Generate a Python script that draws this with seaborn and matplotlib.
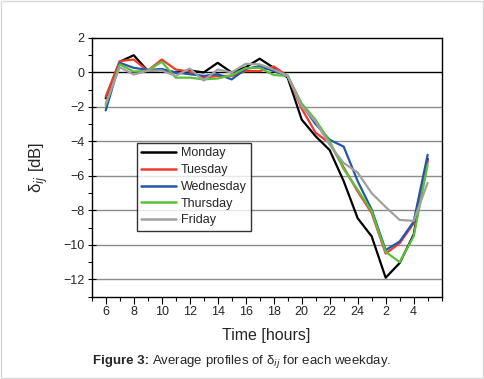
import numpy as np
import pandas as pd
import matplotlib.pyplot as plt
import matplotlib.ticker as mticker
import seaborn as sns

# hours 6 .. 29 (29 = 5 am next day)
hours = list(range(6, 30))
days = ["Monday", "Tuesday", "Wednesday", "Thursday", "Friday"]

monday = [-1.5, 0.62, 1.0, 0.1, 0.15, 0.0, 0.12, 0.0, 0.56, 0.0, 0.3, 0.8,
          0.27, -0.3, -2.73, -3.7, -4.5, -6.3, -8.45, -9.5, -11.9, -11.05, -9.4, -5.0]
tuesday = [-1.4, 0.66, 0.75, 0.1, 0.75, 0.17, 0.05, -0.3, -0.2, -0.2, 0.08, 0.08,
           0.35, -0.2, -2.1, -3.5, -4.1, -5.5, -6.9, -8.15, -10.5, -9.9, -8.75, -5.15]
wednesday = [-2.2, 0.56, 0.27, 0.15, 0.2, 0.0, -0.1, -0.2, -0.1, -0.4, 0.2, 0.37,
             0.08, -0.2, -1.87, -3.0, -3.9, -4.3, -6.3, -7.95, -10.3, -9.8, -8.65, -4.77]
thursday = [-1.9, 0.47, 0.05, 0.1, 0.62, -0.3, -0.3, -0.4, -0.35, -0.15, 0.25, 0.27,
            -0.15, -0.2, -1.8, -2.75, -4.0, -5.6, -6.8, -8.05, -10.4, -11.0, -9.5, -5.35]
friday = [-1.8, 0.3, -0.12, 0.1, 0.12, -0.2, 0.23, -0.47, 0.17, 0.0, 0.5, 0.47,
          0.17, -0.2, -1.97, -2.85, -4.2, -5.25, -5.8, -7.0, -7.8, -8.55, -8.6, -6.4]

tick_pos = list(range(6, 30, 2))
tick_labels = ["6", "8", "10", "12", "14", "16", "18", "20", "22", "24", "2", "4"]

colors = ["#000000", "#f03a2e", "#2457a8", "#5cbf3c", "#a0a0a0"]

df = pd.DataFrame({
    "hour": hours * 5,
    "value": monday + tuesday + wednesday + thursday + friday,
    "day": sum([[d] * len(hours) for d in days], []),
})

sns.set_style("white")
plt.rcParams["font.family"] = ["Liberation Sans", "DejaVu Sans"]
plt.rcParams["mathtext.fontset"] = "dejavusans"

fig = plt.figure(figsize=(4.84, 3.79), dpi=100)
ax = fig.add_axes([0.1895, 0.2172, 0.723, 0.6826])

# horizontal reference lines
for y in range(-12, 0, 2):
    ax.axhline(y, color="#8c8c8c", lw=1.0, zorder=0)
ax.axhline(0, color="black", lw=1.0, zorder=0)

sns.lineplot(data=df, x="hour", y="value", hue="day", hue_order=days,
             palette=colors, lw=1.6, ax=ax)

ax.set_xlim(5, 30)
ax.set_ylim(-13, 2)
ax.set_xticks(tick_pos)
ax.set_xticklabels(tick_labels)
ax.xaxis.set_minor_locator(mticker.MultipleLocator(1))
ax.set_yticks(range(-12, 3, 2))
ax.yaxis.set_minor_locator(mticker.MultipleLocator(1))
ax.tick_params(axis="both", which="major", labelsize=9, length=5,
               width=0.8, direction="out", color="black", pad=2)
ax.tick_params(axis="y", which="major", direction="inout", length=6)
ax.tick_params(axis="both", which="minor", length=3, width=0.8,
               direction="out", color="black")
ax.tick_params(bottom=True, left=True, which="both")
for s in ax.spines.values():
    s.set_color("black")
    s.set_linewidth(1.0)

ax.set_xlabel("Time [hours]", fontsize=11.5, labelpad=7)
ax.set_ylabel("δ$_{ij}$ [dB]", fontsize=12, labelpad=10)

leg = ax.legend(loc="upper left", bbox_to_anchor=(0.129, 0.594), fontsize=9,
                frameon=True, fancybox=False, edgecolor="black",
                handlelength=2.8, handletextpad=0.35, labelspacing=0.38,
                borderpad=0.35, borderaxespad=0)
leg.get_frame().set_linewidth(1.0)
for line in leg.get_lines():
    line.set_linewidth(1.8)

# caption
t1 = fig.text(93 / 484, 1 - 361 / 379, "Figure 3:", fontsize=9.5,
              fontweight="bold", va="center")
fig.canvas.draw()
bb = t1.get_window_extent()
fig.text((bb.x1 + 3) / 484, 1 - 361 / 379,
         "Average profiles of δ$_{ij}$ for each weekday.",
         fontsize=9.5, va="center")

fig.patches.append(plt.Rectangle((0.003, 0.003), 0.994, 0.994,
                                 transform=fig.transFigure, fill=False,
                                 edgecolor="#d8d8d8", lw=1.0))

plt.savefig("out.png", dpi=100)
